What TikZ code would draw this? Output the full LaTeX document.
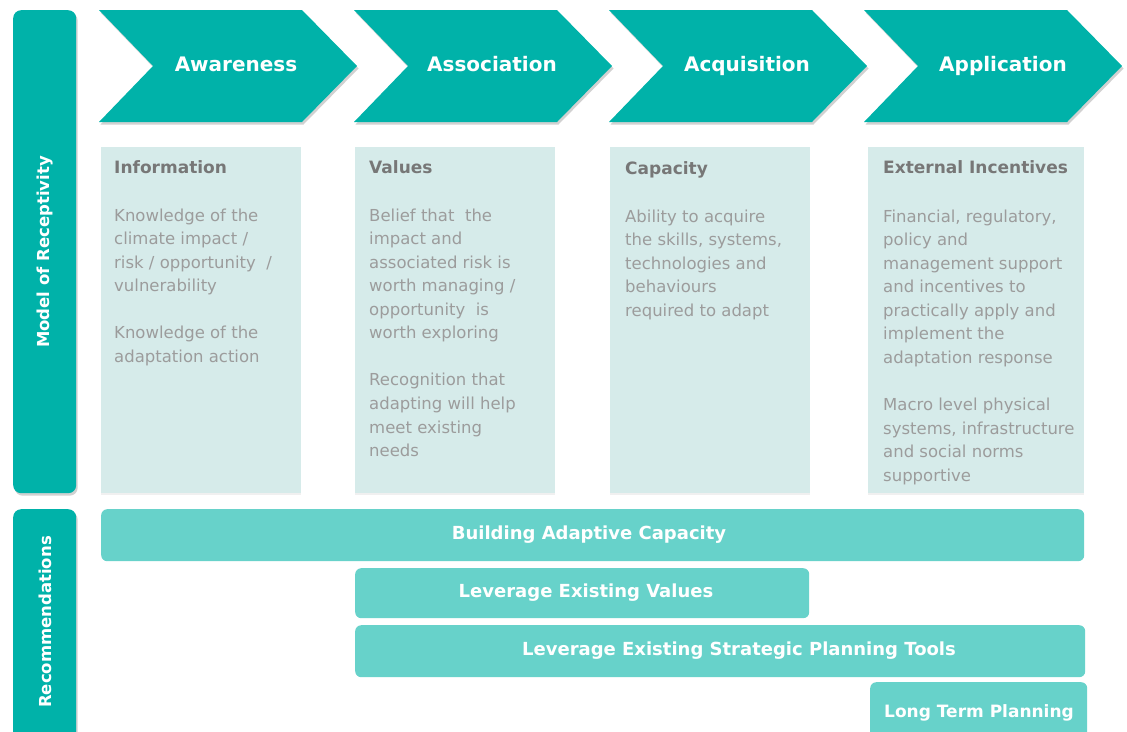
\documentclass[tikz,border=0pt]{standalone}
\usepackage{fontspec}
\setmainfont{DejaVu Sans}
\usetikzlibrary{shadows}
\definecolor{tealA}{HTML}{00B2A9}
\definecolor{tealB}{HTML}{67D2CA}
\definecolor{boxbg}{HTML}{D6EBEA}
\definecolor{titlegray}{HTML}{777777}
\definecolor{bodygray}{HTML}{9C9C9C}
\newcommand{\bl}[4]{\node[bodytext] (#1) at (#2,#3) {#4};}
\begin{document}
\begin{tikzpicture}[x=1pt,y=-1pt,
  chevshape/.style={fill=tealA, drop shadow={shadow xshift=1.5pt,shadow yshift=-2.5pt,opacity=0.3,fill=black!60}},
  sidebar/.style={fill=tealA, rounded corners=8pt, draw=none, inner sep=0pt, anchor=north west,
     drop shadow={shadow xshift=1.5pt,shadow yshift=-2.5pt,opacity=0.3,fill=black!60}},
  lightbox/.style={fill=boxbg, draw=none, inner sep=0pt, anchor=north west,
     drop shadow={shadow xshift=0pt,shadow yshift=-1.5pt,opacity=0.12}},
  recbar/.style={fill=tealB, rounded corners=6pt, draw=none, inner sep=0pt, anchor=north west},
  chevtext/.style={text=white, font=\bfseries\fontsize{20}{24}\selectfont, anchor=base, inner sep=0pt},
  sidetext/.style={text=white, font=\bfseries\fontsize{16.5}{20}\selectfont, rotate=90, inner sep=0pt},
  titletext/.style={text=titlegray, font=\bfseries\fontsize{17}{20}\selectfont, anchor=base west, inner sep=0pt},
  bodytext/.style={text=bodygray, font=\fontsize{16.5}{20}\selectfont, anchor=base west, inner sep=0pt},
  rectext/.style={text=white, font=\bfseries\fontsize{18}{22}\selectfont, inner sep=0pt}
]
\useasboundingbox (0,0) rectangle (1127,731);
\clip (0,0) rectangle (1127,731);

% side bars
\node[sidebar, minimum width=63, minimum height=483] (sideA) at (13,10) {};
\node[sidebar, minimum width=63, minimum height=240] (sideB) at (13,509) {};
\node[sidetext] (sideAt) at (45,252) {Model of Receptivity};
\node[sidetext] (sideBt) at (45,622) {Recommendations};

% chevrons
\foreach \x [count=\i] in {99,354,609,864}{
  \fill[chevshape] (\x,10) -- (\x+203,10) -- (\x+258,66) -- (\x+203,122) -- (\x,122) -- (\x+54,66) -- cycle;
}
\node[chevtext] (chA) at (236,71) {Awareness};
\node[chevtext] (chB) at (492,71) {Association};
\node[chevtext] (chC) at (747,71) {Acquisition};
\node[chevtext] (chD) at (1003,71) {Application};

% light boxes
\node[lightbox, minimum width=200, minimum height=346] (boxA) at (101,147) {};
\node[lightbox, minimum width=200, minimum height=346] (boxB) at (355,147) {};
\node[lightbox, minimum width=200, minimum height=346] (boxC) at (610,147) {};
\node[lightbox, minimum width=216, minimum height=346] (boxD) at (868,147) {};

% box 1
\node[titletext] (tA) at (114,173) {Information};
\bl{a1}{114}{221}{Knowledge of the}
\bl{a2}{114}{244.6}{climate impact /}
\bl{a3}{114}{268.1}{risk / opportunity \ /}
\bl{a4}{114}{291.7}{vulnerability}
\bl{a5}{114}{338.8}{Knowledge of the}
\bl{a6}{114}{362.3}{adaptation action}

% box 2
\node[titletext] (tB) at (369,173) {Values};
\bl{b1}{369}{221}{Belief that \ the}
\bl{b2}{369}{244.6}{impact and}
\bl{b3}{369}{268.1}{associated risk is}
\bl{b4}{369}{291.7}{worth managing /}
\bl{b5}{369}{315.2}{opportunity \ is}
\bl{b6}{369}{338.8}{worth exploring}
\bl{b7}{369}{385.9}{Recognition that}
\bl{b8}{369}{409.4}{adapting will help}
\bl{b9}{369}{433}{meet existing}
\bl{b10}{369}{456.5}{needs}

% box 3
\node[titletext] (tC) at (625,174) {Capacity};
\bl{c1}{625}{222}{Ability to acquire}
\bl{c2}{625}{245.6}{the skills, systems,}
\bl{c3}{625}{269.1}{technologies and}
\bl{c4}{625}{292.7}{behaviours}
\bl{c5}{625}{316.2}{required to adapt}

% box 4
\node[titletext] (tD) at (883,173) {External Incentives};
\bl{d1}{883}{222}{Financial, regulatory,}
\bl{d2}{883}{245.6}{policy and}
\bl{d3}{883}{269.1}{management support}
\bl{d4}{883}{292.7}{and incentives to}
\bl{d5}{883}{316.2}{practically apply and}
\bl{d6}{883}{339.8}{implement the}
\bl{d7}{883}{363.3}{adaptation response}
\bl{d8}{883}{410.4}{Macro level physical}
\bl{d9}{883}{434}{systems, infrastructure}
\bl{d10}{883}{457.5}{and social norms}
\bl{d11}{883}{481}{supportive}

% recommendation bars
\node[recbar, minimum width=983, minimum height=52] (rA) at (101,509) {};
\node[recbar, minimum width=454, minimum height=50] (rB) at (355,568) {};
\node[recbar, minimum width=730, minimum height=52] (rC) at (355,625) {};
\node[recbar, minimum width=217, minimum height=70] (rD) at (870,682) {};
\node[rectext] (rAt) at (589,535) {Building Adaptive Capacity};
\node[rectext] (rBt) at (586,593) {Leverage Existing Values};
\node[rectext] (rCt) at (739,651) {Leverage Existing Strategic Planning Tools};
\node[rectext, font=\bfseries\fontsize{17}{20}\selectfont] (rDt) at (979,713) {Long Term Planning};
\end{tikzpicture}
\end{document}
